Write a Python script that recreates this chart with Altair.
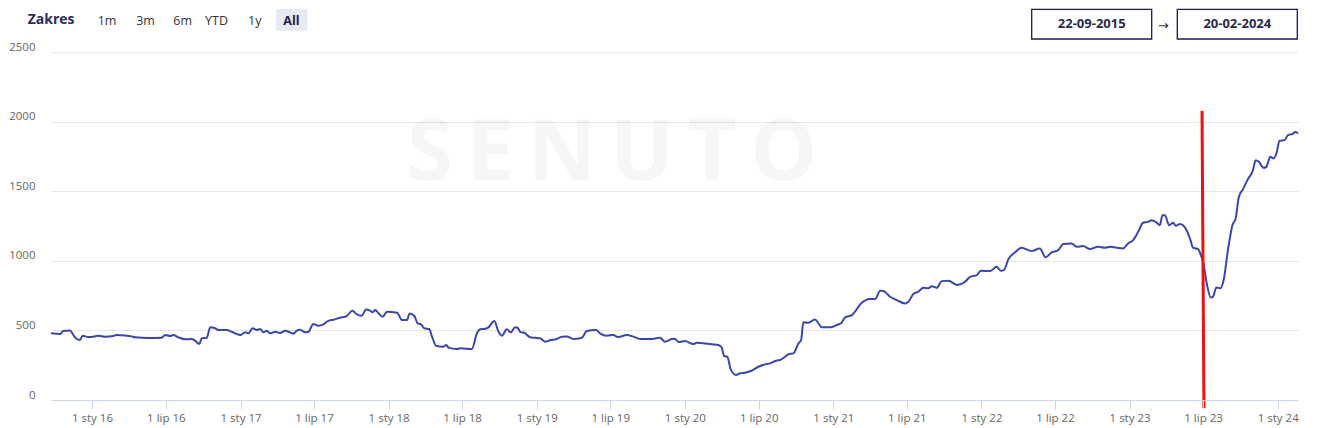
import altair as alt
import pandas as pd

# ---- data (decimal year, visibility value) ----
years = [
    2015.723, 2015.784, 2015.806, 2015.852, 2015.874, 2015.896, 2015.919, 2015.937, 2015.975,
    2016.009, 2016.042, 2016.088, 2016.144, 2016.166, 2016.223, 2016.267, 2016.290, 2016.380,
    2016.469, 2016.492, 2016.526, 2016.548, 2016.582, 2016.627, 2016.672, 2016.695, 2016.722,
    2016.739, 2016.773, 2016.796, 2016.829, 2016.852, 2016.908, 2016.941, 2016.998,
    2017.032, 2017.054, 2017.081, 2017.110, 2017.133, 2017.155, 2017.177, 2017.200, 2017.234,
    2017.268, 2017.301, 2017.335, 2017.357, 2017.380, 2017.403, 2017.436, 2017.459, 2017.492,
    2017.526, 2017.560, 2017.593, 2017.627, 2017.672, 2017.717, 2017.755, 2017.784, 2017.818,
    2017.848, 2017.872, 2017.892, 2017.910, 2017.933, 2017.960, 2017.989,
    2018.057, 2018.090, 2018.124, 2018.142, 2018.173, 2018.196, 2018.218, 2018.241, 2018.274,
    2018.293, 2018.322, 2018.371, 2018.389, 2018.405, 2018.461, 2018.484, 2018.562, 2018.596,
    2018.618, 2018.652, 2018.674, 2018.713, 2018.742, 2018.765, 2018.798, 2018.825, 2018.854,
    2018.870, 2018.888, 2018.922, 2018.956, 2018.989,
    2019.023, 2019.057, 2019.090, 2019.136, 2019.169, 2019.203, 2019.247, 2019.304, 2019.338,
    2019.401, 2019.428, 2019.473, 2019.517, 2019.551, 2019.608, 2019.652, 2019.697, 2019.765,
    2019.832, 2019.866, 2019.911, 2019.930, 2019.960,
    2020.001, 2020.057, 2020.080, 2020.124, 2020.181, 2020.225, 2020.248, 2020.264, 2020.286,
    2020.309, 2020.345, 2020.372, 2020.405, 2020.450, 2020.495, 2020.540, 2020.574, 2020.608,
    2020.641, 2020.675, 2020.697, 2020.731, 2020.765, 2020.783, 2020.798, 2020.832, 2020.877,
    2020.900, 2020.922, 2020.978,
    2021.024, 2021.051, 2021.080, 2021.125, 2021.192, 2021.248, 2021.282, 2021.316, 2021.338,
    2021.383, 2021.428, 2021.484, 2021.506, 2021.540, 2021.574, 2021.607, 2021.641, 2021.664,
    2021.698, 2021.732, 2021.776, 2021.837, 2021.889, 2021.923, 2021.968, 2021.995,
    2022.060, 2022.102, 2022.130, 2022.152, 2022.181, 2022.226, 2022.271, 2022.338, 2022.394,
    2022.433, 2022.473, 2022.518, 2022.552, 2022.608, 2022.642, 2022.687, 2022.732, 2022.788,
    2022.833, 2022.867, 2022.912, 2022.956, 2022.990,
    2023.024, 2023.058, 2023.091, 2023.125, 2023.148, 2023.181, 2023.204, 2023.222, 2023.238,
    2023.267, 2023.294, 2023.312, 2023.339, 2023.384, 2023.411, 2023.428, 2023.462, 2023.485,
    2023.496, 2023.523, 2023.548, 2023.563, 2023.586, 2023.613, 2023.635, 2023.664, 2023.694,
    2023.716, 2023.738, 2023.765, 2023.799, 2023.833, 2023.851, 2023.873, 2023.905, 2023.923,
    2023.950, 2023.972, 2023.991,
    2024.013, 2024.047, 2024.069, 2024.098, 2024.121, 2024.137,
]
values = [
    479, 474, 495, 500, 467, 440, 431, 462, 452,
    455, 462, 455, 460, 467, 464, 457, 450, 445,
    447, 467, 460, 467, 450, 436, 438, 426, 402,
    443, 447, 522, 515, 503, 503, 490, 467,
    486, 479, 515, 503, 510, 486, 498, 479, 490,
    481, 498, 486, 476, 498, 505, 486, 490, 546,
    534, 544, 569, 577, 591, 603, 641, 617, 605,
    650, 644, 630, 646, 622, 598, 634,
    627, 574, 574, 622, 605, 551, 544, 515, 510,
    455, 388, 383, 395, 376, 366, 371, 366, 479,
    508, 512, 522, 567, 490, 462, 508, 486, 522,
    519, 490, 479, 450, 447,
    443, 419, 429, 438, 455, 457, 438, 447, 495,
    503, 479, 462, 467, 452, 467, 455, 438, 438,
    447, 419, 438, 440, 416,
    424, 402, 412, 407, 400, 395, 378, 316, 311,
    220, 180, 192, 196, 210, 239, 256, 263, 280,
    287, 311, 328, 335, 407, 431, 558, 555, 579,
    551, 522, 522,
    539, 551, 594, 610, 699, 725, 725, 785, 783,
    742, 718, 694, 706, 761, 778, 806, 802, 818,
    806, 854, 857, 826, 849, 885, 897, 928,
    927, 957, 928, 933, 1010, 1060, 1094, 1070, 1089,
    1025, 1060, 1077, 1120, 1125, 1101, 1106, 1084, 1101,
    1094, 1101, 1094, 1089, 1125,
    1149, 1208, 1273, 1280, 1292, 1276, 1256, 1328, 1328,
    1256, 1273, 1251, 1264, 1221, 1149, 1094, 1084, 1029,
    993, 826, 737, 742, 809, 802, 862, 1077, 1256,
    1305, 1460, 1513, 1587, 1651, 1723, 1711, 1668, 1675,
    1747, 1735, 1771,
    1862, 1867, 1903, 1910, 1926, 1914,
]
assert len(years) == len(values)

y_ticks = [0, 500, 1000, 1500, 2000, 2500]
month_names = {"01": "sty", "07": "lip"}
tick_months = [(y, m) for y in range(2016, 2025) for m in (1, 7) if (y, m) != (2024, 7)]
range_buttons = ["1m", "3m", "6m", "YTD", "1y"]
date_from = "22-09-2015"
date_to = "20-02-2024"
watermark = "\u2009".join("SENUTO")
annot_years = [2023.489, 2023.502]
annot_values = [2077, -57]


def to_date(t):
    y = int(t)
    start = pd.Timestamp(year=y, month=1, day=1)
    end = pd.Timestamp(year=y + 1, month=1, day=1)
    return (start + (end - start) * (t - y)).strftime("%Y-%m-%dT%H:%M:%SZ")


df = pd.DataFrame({"date": [to_date(t) for t in years], "value": values})

FONT = "Open Sans"

x_scale = alt.Scale(
    type="utc",
    domain=[alt.DateTime(year=2015, month=9, date=22, utc=True),
            alt.DateTime(year=2024, month=2, date=20, utc=True)],
    nice=False,
)
y_scale = alt.Scale(domain=[0, 2500], nice=False)

label_expr = ("'1 ' + (utcFormat(datum.value, '%m') == '01' ? '" + month_names["01"] +
              "' : '" + month_names["07"] + "') + ' ' + utcFormat(datum.value, '%y')")

line = alt.Chart(df).mark_line(
    color="#3b46a6", strokeWidth=2, interpolate="monotone"
).encode(
    x=alt.X("date:T", scale=x_scale, title=None,
            axis=alt.Axis(values=[alt.DateTime(year=y, month=m, date=1, utc=True) for y, m in tick_months],
                          labelExpr=label_expr, grid=False, domainColor="#ccd6eb",
                          tickColor="#ccd6eb", tickSize=9, labelColor="#666666",
                          labelFontSize=11.5, labelPadding=3, labelFont=FONT, zindex=1)),
    y=alt.Y("value:Q", scale=y_scale, title=None,
            axis=alt.Axis(values=y_ticks, format="d", domain=False, ticks=False, tickSize=0,
                          gridColor="#e6e6e6", labelColor="#666666", labelFontSize=11.5,
                          labelPadding=16, labelFont=FONT, labelBaseline="alphabetic",
                          labelOffset=-2)),
)

one = pd.DataFrame({"a": [0]})


def text(s, x, y, **kw):
    return alt.Chart(pd.DataFrame({"t": [s]})).mark_text(**kw).encode(
        text="t:N", x=alt.value(x), y=alt.value(y))


def box(x1, x2, y1, y2, **kw):
    return alt.Chart(one).mark_rect(**kw).encode(
        x=alt.value(x1), x2=alt.value(x2), y=alt.value(y1), y2=alt.value(y2))


wm = text(watermark, 561, 103, font=FONT, fontSize=84, fontWeight="bold", color="#888888",
          opacity=0.065, align="center", baseline="middle")

header = [
    text("Zakres", -23.3, -32.5, font=FONT, fontSize=14, fontWeight="bold", color="#2b2d5a",
         align="left", baseline="middle"),
]
btn_x = [56, 94.5, 131.7, 165.5, 203.7]
for s, bx in zip(range_buttons, btn_x):
    header.append(text(s, bx, -31.3, font=FONT, fontSize=12.5, color="#333333",
                       align="center", baseline="middle"))
header.append(box(225, 256.3, -43, -21.3, color="#e6eaf4", cornerRadius=2))
header.append(text("All", 240.4, -31.3, font=FONT, fontSize=12.5, fontWeight="bold",
                   color="#222244", align="center", baseline="middle"))
header.append(box(980.7, 1100.7, -42.7, -13, fill="white", stroke="#1c1c4c", strokeWidth=1.3))
header.append(box(1126.3, 1246.3, -42.7, -13, fill="white", stroke="#1c1c4c", strokeWidth=1.3))
header.append(text(date_from, 1040.7, -27.7, font=FONT, fontSize=13, fontWeight="bold",
                   color="#2a2a4a", align="center", baseline="middle"))
header.append(text("→", 1112.3, -26.5, font="DejaVu Sans", fontSize=13, color="#333333",
                   align="center", baseline="middle"))
header.append(text(date_to, 1186.3, -27.7, font=FONT, fontSize=13, fontWeight="bold",
                   color="#2a2a4a", align="center", baseline="middle"))

annot_df = pd.DataFrame({"d1": [to_date(annot_years[0])], "d2": [to_date(annot_years[1])],
                         "v1": [annot_values[0]], "v2": [annot_values[1]]})
annot = alt.Chart(annot_df).mark_rule(color="#ee1111", strokeWidth=3).encode(
    x=alt.X("d1:T", scale=x_scale), x2="d2:T",
    y=alt.Y("v1:Q", scale=y_scale), y2="v2:Q")

chart = alt.layer(wm, line, annot, *header).properties(
    width=1247, height=348,
    autosize=alt.AutoSizeParams(type="none"),
    padding={"left": 43, "top": 44, "right": 12, "bottom": 26},
).configure_view(stroke=None)

chart.save("out.html", embed_options={"renderer": "svg", "actions": False})
